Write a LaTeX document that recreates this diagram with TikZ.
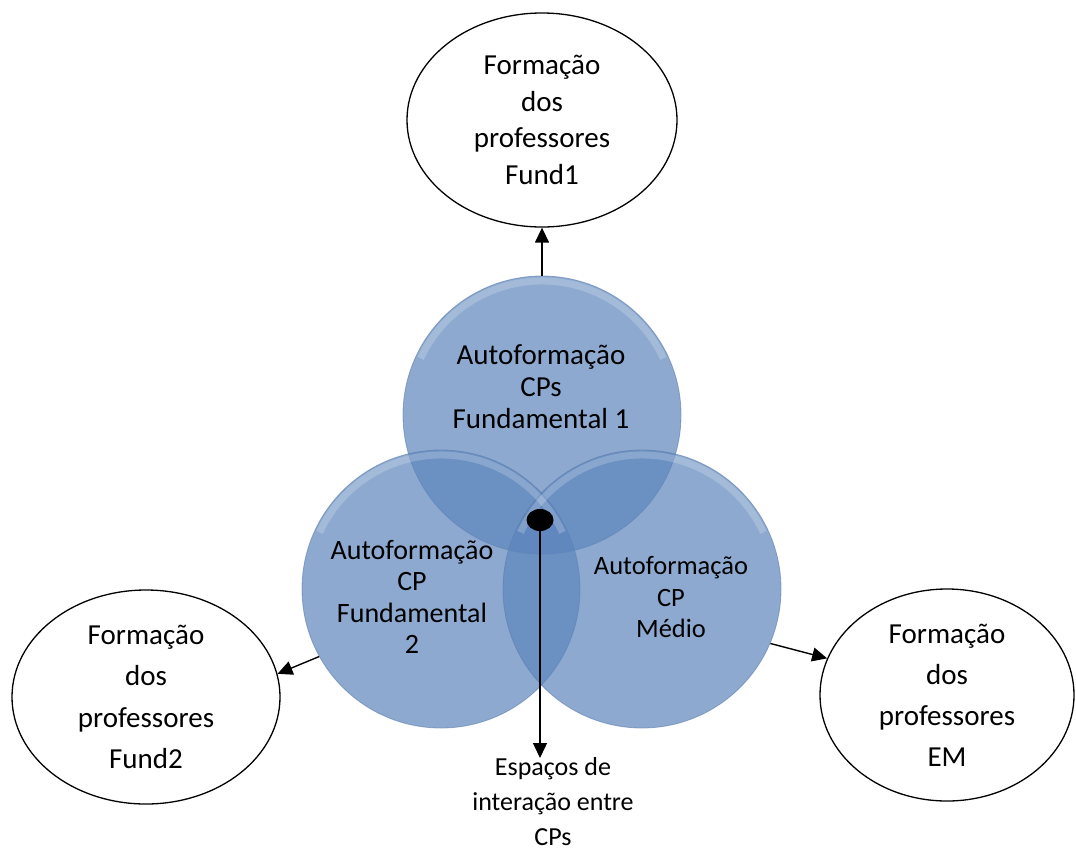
\documentclass[tikz,border=0pt]{standalone}
\usepackage{fontspec}
\setmainfont{Carlito}
\usetikzlibrary{arrows.meta,shapes.geometric}
\definecolor{cpfill}{RGB}{92,133,188}
\definecolor{cpedge}{RGB}{95,125,170}
\tikzset{
  cp/.style={circle, minimum size=278pt, inner sep=0pt, fill=cpfill, fill opacity=0.7, draw=cpedge, draw opacity=0.6, line width=0.8pt},
  hl/.style={white, opacity=0.2, line width=7pt},
  cptext/.style={align=center, inner sep=0pt, text=black},
  form/.style={ellipse, draw=black, line width=1.3pt, fill=white, inner sep=0pt, align=center},
  arr/.style={line width=1.4pt, -{Triangle[length=15pt,width=14pt]}},
}
\begin{document}
\begin{tikzpicture}[x=1pt,y=-1pt]
\useasboundingbox (0,0) rectangle (1076,852);
% circles
\node[cp] (c1) at (542,415) {};
\node[cp] (c2) at (441,589) {};
\node[cp] (c3) at (642,589) {};
% bevel highlights along the upper rims
\draw[hl] (c1.center) ++(205:134) arc[start angle=205, end angle=335, radius=134];
\draw[hl] (c2.center) ++(205:134) arc[start angle=205, end angle=335, radius=134];
\draw[hl] (c3.center) ++(205:134) arc[start angle=205, end angle=335, radius=134];
% circle texts
\node[cptext, font=\fontsize{29}{32}\selectfont] (t1) at (541,387) {Autoformação\\CPs\\Fundamental 1};
\node[cptext, font=\fontsize{28}{31.5}\selectfont] (t2) at (412,597) {Autoformação\\CP\\Fundamental\\2};
\node[cptext, font=\fontsize{26.5}{31.5}\selectfont] (t3) at (671,597) {Autoformação\\CP\\Médio};
% formation ellipses
\node[form, minimum width=270pt, minimum height=214pt, font=\fontsize{29}{36.7}\selectfont] (e1) at (542,120) {Formação\\dos\\professores\\Fund1};
\node[form, minimum width=268pt, minimum height=214pt, font=\fontsize{29}{41.5}\selectfont] (e2) at (146,697) {Formação\\dos\\professores\\Fund2};
\node[form, minimum width=254pt, minimum height=212pt, font=\fontsize{29}{41}\selectfont] (e3) at (947,695) {Formação\\dos\\professores\\EM};
% central dot
\node[ellipse, fill=black, minimum width=27pt, minimum height=22pt, inner sep=0pt] (dot) at (540,520) {};
\coordinate (bt) at (540,758);
\node[cptext, font=\fontsize{26}{35}\selectfont] (lbl) at (553,802) {Espaços de\\interação entre\\CPs};
% connectors
\draw[arr] (c1.north) -- (e1.south);
\draw[arr] (c2.209) -- (e2.10);
\draw[arr] (c3.-23) -- (e3.163);
\draw[arr] (dot.center) -- (bt);
\end{tikzpicture}
\end{document}
